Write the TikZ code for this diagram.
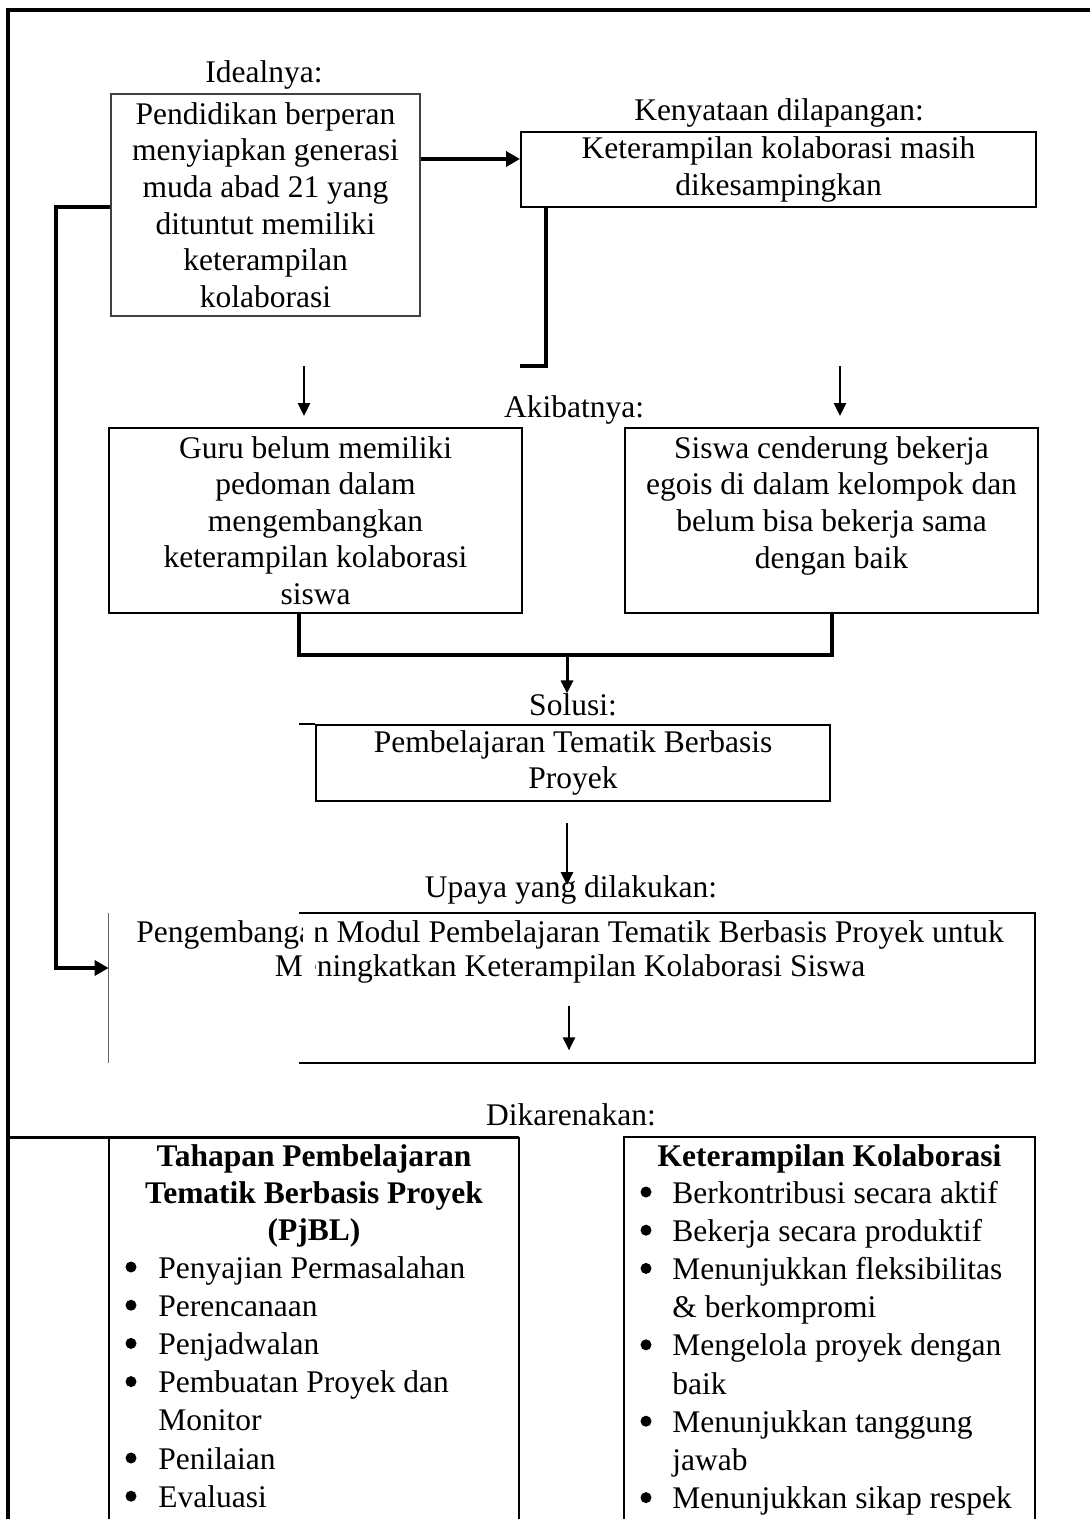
\documentclass[tikz,border=0pt]{standalone}
\usepackage{fontspec}
\setmainfont{Liberation Serif}
\usetikzlibrary{arrows.meta,calc}
\newcommand*{\bodyfont}{\fontsize{15.75pt}{18.3pt}\selectfont}
\newcommand*{\listfont}{\fontsize{15.75pt}{19.1pt}\selectfont}

\begin{document}
\begin{tikzpicture}[x=0.5pt, y=-0.5pt,
  every node/.style={font=\bodyfont, inner sep=1pt},
  caplabel/.style={inner sep=0pt},
  boxnode/.style={draw, line width=1pt, align=center},
  thinboxnode/.style={draw=black!75, line width=0.8pt, align=center},
  listnode/.style={anchor=base west, font=\listfont},
  thickline/.style={line width=2pt},
  thinline/.style={line width=1pt},
  bigtip/.style={-{Triangle[length=7pt,width=7.5pt]}},
  smalltip/.style={-{Triangle[length=6.5pt,width=6pt]}}]

\useasboundingbox (0,0) rectangle (1090,1519);

% Outer frame
\draw[thickline] (8,1519) -- (8,10) -- (1090,10);

% First row
\node[caplabel] (ideal)     at (264,75)  {Idealnya:};
\node[thinboxnode, minimum width=154.5pt, minimum height=111pt] (pendidikan) at (265.5,205)
  {Pendidikan berperan\\menyiapkan generasi\\muda abad 21 yang\\dituntut memiliki\\keterampilan\\kolaborasi};
\node[caplabel] (kenyataan) at (779,113) {Kenyataan dilapangan:};
\node[boxnode, minimum width=257.5pt, minimum height=37.5pt] (lapangan) at (778.5,169.5)
  {Keterampilan kolaborasi masih\\dikesampingkan};

\coordinate (rowA)  at (0,159);
\coordinate (elbow) at (546,366);
\draw[thickline, bigtip] (pendidikan.east |- rowA) -- (lapangan.west |- rowA);
\draw[thickline] (lapangan.south -| elbow) -- (elbow) -- (lapangan.west |- elbow);

% Second row
\node[caplabel] (akibat) at (574,410) {Akibatnya:};
\node[boxnode, minimum width=206.5pt, minimum height=92.5pt] (guru) at (315.5,520.5)
  {Guru belum memiliki\\pedoman dalam\\mengembangkan\\keterampilan kolaborasi\\siswa};
\node[boxnode, minimum width=206.5pt, minimum height=92.5pt] (siswa) at (831.5,520.5)
  {Siswa cenderung bekerja\\egois di dalam kelompok dan\\belum bisa bekerja sama\\dengan baik\\\mbox{}};

\coordinate (downL) at (304,366);
\coordinate (downR) at (840,366);
\draw[line width=1.3pt, smalltip, shorten >=5.5pt] (downL) -- (downL |- guru.north);
\draw[line width=1.3pt, smalltip, shorten >=5.5pt] (downR) -- (downR |- siswa.north);

% Solution
\node[caplabel] (solusi) at (573,705) {Solusi:};
\node[boxnode, line width=0.8pt, minimum width=257pt, minimum height=38pt] (tematik) at (573,763)
  {Pembelajaran Tematik Berbasis\\Proyek};
\draw[line width=0.8pt] (tematik.north west) -- ++(-16,0);

\coordinate (joinL) at (299,655);
\coordinate (joinR) at (832,655);
\coordinate (joinM) at (567,655);
\coordinate (colM)  at (567,0);
\draw[thickline] (guru.south -| joinL) -- (joinL) -- (joinR) -- (siswa.south -| joinR);
\draw[line width=1.5pt, smalltip] (joinM) -- (joinM |- solusi.north);

% Effort
\node[caplabel] (upaya) at (571,890) {Upaya yang dilakukan:};
\draw[line width=1.3pt, smalltip, shorten <=10.5pt, shorten >=2.5pt] (tematik.south -| colM) -- (colM |- upaya.center);

\node[minimum width=463pt, minimum height=75pt] (modul) at (572,988) {};
\draw[thinline] ($(modul.north west)+(190,0)$) -- (modul.north east) -- (modul.south east) -- ($(modul.south west)+(190,0)$);
\draw[black!60, line width=0.6pt] (modul.north west) -- (modul.south west);
\node[align=center, font=\fontsize{15.75pt}{17pt}\selectfont] (modultext) at (570,952)
  {Pengembangan Modul Pembelajaran Tematik Berbasis Proyek untuk\\Meningkatkan Keterampilan Kolaborasi Siswa};
\fill[white] (303,918) rectangle (315,990); % gap in the scan

\coordinate (colU) at (569,0);
\draw[line width=1.2pt, smalltip, shorten <=10pt, shorten >=6.5pt] (modultext.south -| colU) -- (modul.south -| colU);

% Feedback line
\coordinate (backtop) at (56,207);
\coordinate (backrow) at (0,968);
\draw[thickline, bigtip] (pendidikan.west |- backtop) -- (backtop) |- (modul.west |- backrow);

% Bottom boxes
\node[caplabel] (karena) at (571,1115) {Dikarenakan:};
\draw[line width=1.5pt] (8,1137) -- (519,1137);
\draw[thinline] (109,1137) -- (109,1519);
\draw[thinline] (519,1137) -- (519,1519);
\draw[thinline] (624,1519) -- (624,1137) -- (1035,1137) -- (1035,1519);

\node[align=center, font=\bodyfont\bfseries] (tahapanhead) at (314,1196)
  {Tahapan Pembelajaran\\Tematik Berbasis Proyek\\(PjBL)};
\node[listnode] (tahapanlist) at (156,1278)
  {\begin{tabular}[t]{@{}l@{}}
   Penyajian Permasalahan\\
   Perencanaan\\
   Penjadwalan\\
   Pembuatan Proyek dan\\
   Monitor\\
   Penilaian\\
   Evaluasi
   \end{tabular}};
\foreach \r in {0,1,2,3,5,6}
  \fill ($(tahapanlist.base west)+(-25,-11+38.2*\r)$) circle (2.75pt);

\node[font=\bodyfont\bfseries] (kolabhead) at (829.5,1159) {Keterampilan Kolaborasi};
\node[listnode] (kolablist) at (670,1203)
  {\begin{tabular}[t]{@{}l@{}}
   Berkontribusi secara aktif\\
   Bekerja secara produktif\\
   Menunjukkan fleksibilitas\\
   \& berkompromi\\
   Mengelola proyek dengan\\
   baik\\
   Menunjukkan tanggung\\
   jawab\\
   Menunjukkan sikap respek
   \end{tabular}};
\foreach \r in {0,1,2,4,6,8}
  \fill ($(kolablist.base west)+(-24,-11+38.2*\r)$) circle (2.75pt);

\end{tikzpicture}
\end{document}
